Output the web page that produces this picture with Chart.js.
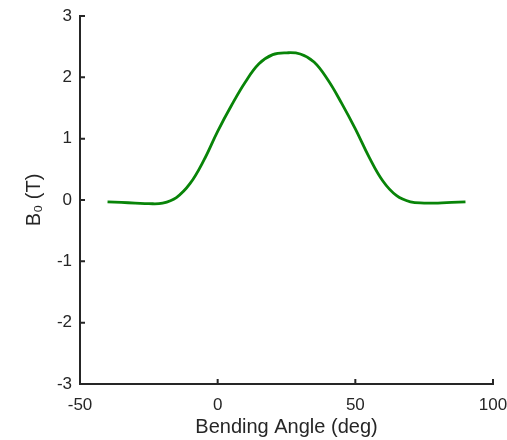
<!DOCTYPE html>
<html>
<head>
<meta charset="utf-8">
<script src="https://cdn.jsdelivr.net/npm/chart.js@4"></script>
<style>
    html, body { margin: 0; padding: 0; background: #fff; }
    #wrap { width: 507px; height: 440px; }
</style>
</head>
<body>
<div id="wrap"><canvas id="fieldChart"></canvas></div>
<script>
const angles = [-40, -35, -30, -25, -20, -15, -10, -5, 0, 5, 10, 15, 20, 25, 30, 35, 40, 45, 50, 55, 60, 65, 70, 75, 80, 85, 90];
const fieldValues = [-0.03, -0.04, -0.05, -0.06, -0.05, 0.04, 0.27, 0.65, 1.12, 1.54, 1.92, 2.22, 2.37, 2.40, 2.38, 2.25, 1.96, 1.58, 1.16, 0.70, 0.31, 0.07, -0.03, -0.05, -0.05, -0.04, -0.03];
const xTicks = [-50, 0, 50, 100];
const yTicks = [-3, -2, -1, 0, 1, 2, 3];

const axisColor = '#262626';

// MATLAB style ticks pointing into the plot
const inwardTicks = {
    id: 'inwardTicks',
    afterDatasetsDraw(chart) {
        const { ctx, chartArea, scales } = chart;
        ctx.save();
        ctx.strokeStyle = axisColor;
        ctx.lineWidth = 2;
        ctx.beginPath();
        xTicks.forEach(v => {
            const px = scales.x.getPixelForValue(v);
            ctx.moveTo(px, chartArea.bottom);
            ctx.lineTo(px, chartArea.bottom - 5);
        });
        yTicks.forEach(v => {
            const py = scales.y.getPixelForValue(v);
            ctx.moveTo(chartArea.left, py);
            ctx.lineTo(chartArea.left + 5, py);
        });
        ctx.stroke();
        ctx.restore();
    }
};

new Chart(document.getElementById('fieldChart'), {
    type: 'line',
    data: {
        datasets: [{
            data: angles.map((a, i) => ({ x: a, y: fieldValues[i] })),
            borderColor: '#088408',
            borderWidth: 2.8,
            pointRadius: 0,
            tension: 0.4,
            fill: false
        }]
    },
    options: {
        responsive: true,
        maintainAspectRatio: false,
        animation: false,
        layout: { padding: { top: 16, right: 14, left: 0, bottom: 0 } },
        plugins: {
            legend: { display: false },
            tooltip: { enabled: false }
        },
        scales: {
            x: {
                type: 'linear',
                min: -50,
                max: 100,
                afterBuildTicks: scale => { scale.ticks = xTicks.map(v => ({ value: v })); },
                afterFit: scale => {
                    scale.height = 56;
                    scale.paddingLeft = 0;
                    scale.paddingRight = 0;
                },
                grid: { display: false, drawTicks: false },
                border: { color: axisColor, width: 2 },
                ticks: {
                    color: axisColor,
                    font: { family: 'Liberation Sans, Arial, sans-serif', size: 17 },
                    padding: 11,
                    maxRotation: 0
                },
                title: {
                    display: true,
                    text: 'Bending Angle (deg)',
                    color: axisColor,
                    font: { family: 'Liberation Sans, Arial, sans-serif', size: 20 },
                    padding: { top: 0, bottom: 1 }
                }
            },
            y: {
                type: 'linear',
                min: -3,
                max: 3,
                afterBuildTicks: scale => { scale.ticks = yTicks.map(v => ({ value: v })); },
                afterFit: scale => {
                    scale.width = 80;
                    scale.paddingTop = 0;
                    scale.paddingBottom = 0;
                },
                grid: { display: false, drawTicks: false },
                border: { color: axisColor, width: 2 },
                ticks: {
                    color: axisColor,
                    font: { family: 'Liberation Sans, Arial, sans-serif', size: 17 },
                    padding: 8
                },
                title: {
                    display: true,
                    text: 'B\u2080 (T)',
                    color: axisColor,
                    font: { family: 'Liberation Sans, Arial, sans-serif', size: 20 },
                    padding: { top: 22, bottom: 0 }
                }
            }
        }
    },
    plugins: [inwardTicks]
});
</script>
</body>
</html>
